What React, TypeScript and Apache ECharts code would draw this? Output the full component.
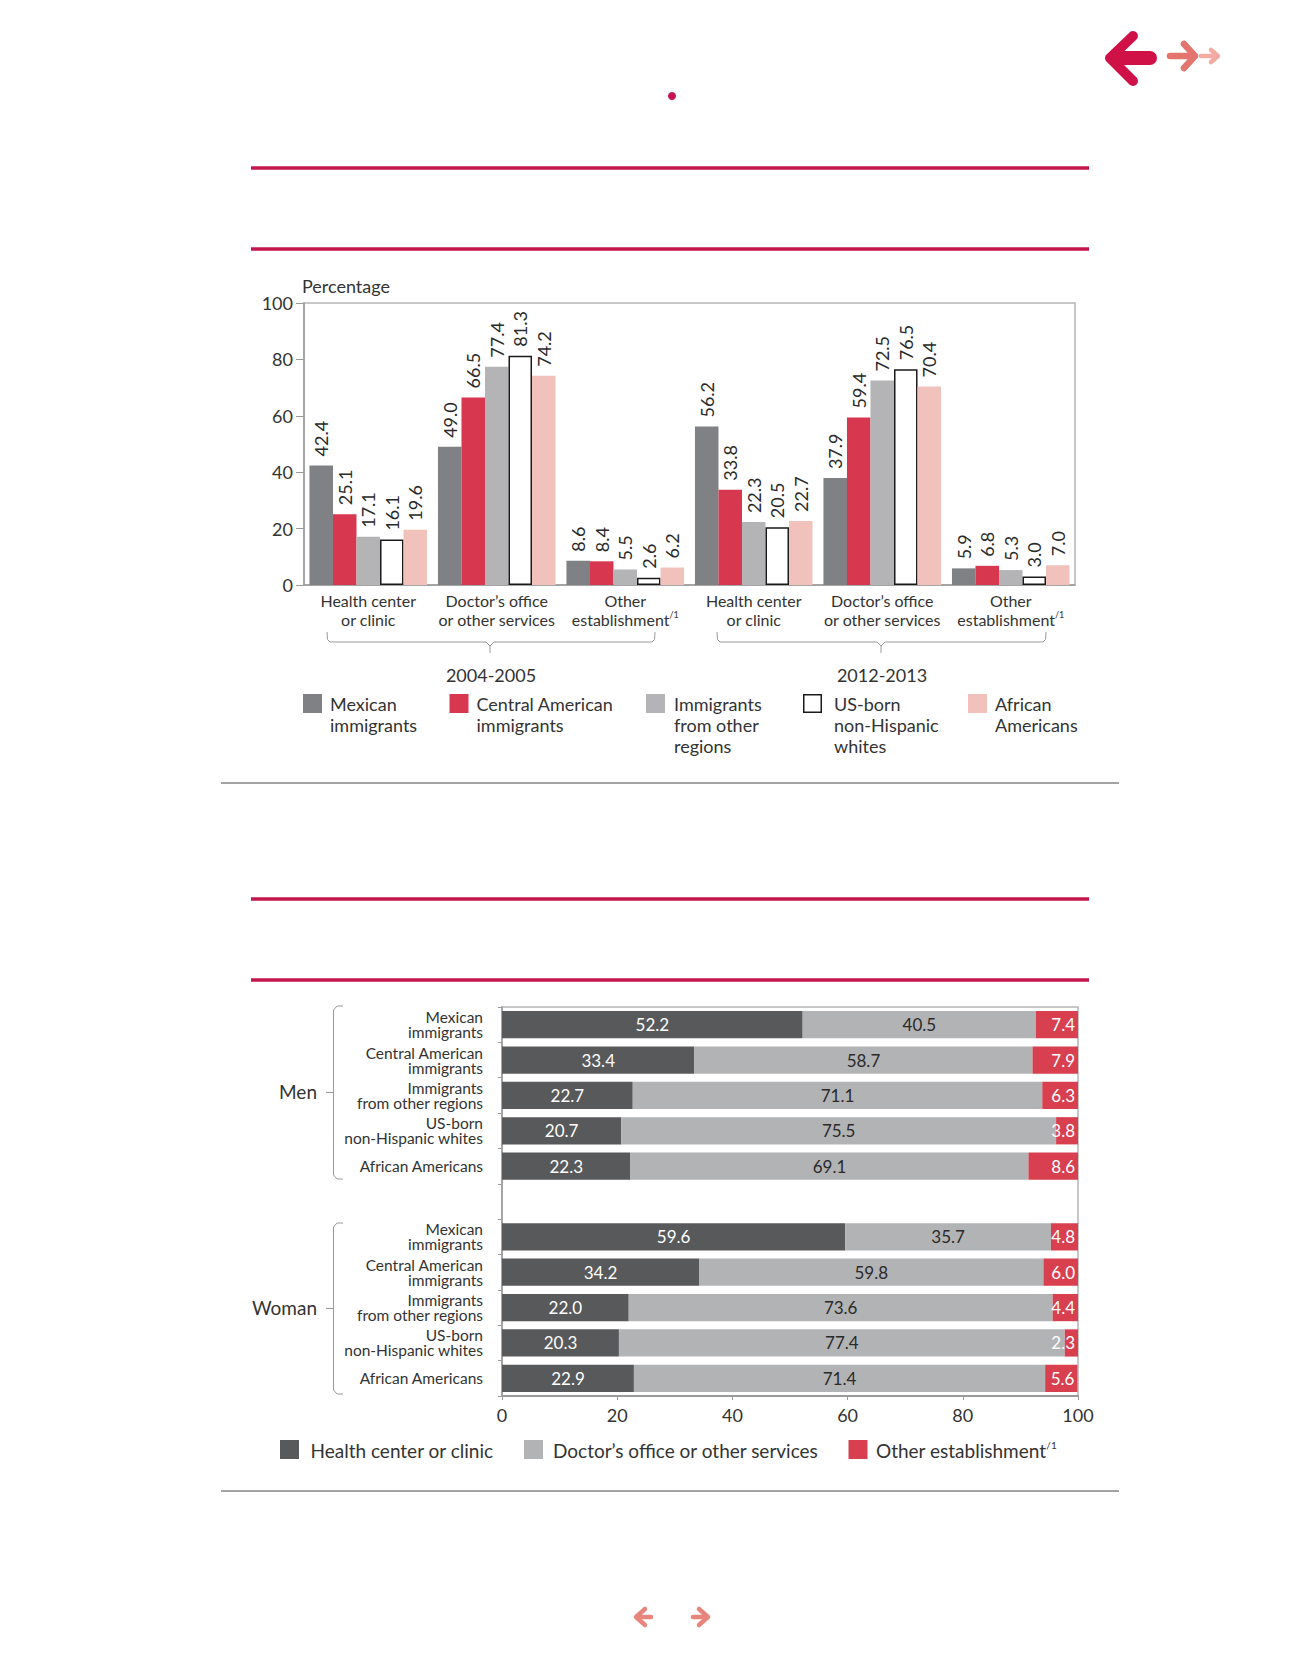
import React, { useEffect, useRef } from 'react';
import * as echarts from 'echarts';

const FONT = 'Lato, "Open Sans", sans-serif';
const TEXT = '#333333';

// ---------- Chart 1 data ----------
const periods = ['2004-2005', '2012-2013'];
const placeKeys = ['p1-hc', 'p1-do', 'p1-ot', 'p2-hc', 'p2-do', 'p2-ot'];
const placeLabels = ['Health center\nor clinic', 'Doctor’s office\nor other services', 'Other\n{n|establishment}{s|/1}'];
const groupNames = ['Mexican immigrants', 'Central American immigrants', 'Immigrants from other regions', 'US-born non-Hispanic whites', 'African Americans'];
const legend1Labels = ['Mexican\nimmigrants', 'Central American\nimmigrants', 'Immigrants\nfrom other\nregions', 'US-born\nnon-Hispanic\nwhites', 'African\nAmericans'];
const mexicanValues = [42.4, 49.0, 8.6, 56.2, 37.9, 5.9];
const centralAmericanValues = [25.1, 66.5, 8.4, 33.8, 59.4, 6.8];
const otherRegionsValues = [17.1, 77.4, 5.5, 22.3, 72.5, 5.3];
const usBornValues = [16.1, 81.3, 2.6, 20.5, 76.5, 3.0];
const africanAmericanValues = [19.6, 74.2, 6.2, 22.7, 70.4, 7.0];
const yAxis1Ticks = { min: 0, max: 100, interval: 20 };

// ---------- Chart 2 data ----------
const sexGroups = ['Men', 'Woman'];
const populationLabels = ['Mexican\nimmigrants', 'Central American\nimmigrants', 'Immigrants\nfrom other regions', 'US-born\nnon-Hispanic whites', 'African Americans'];
const menHealth = [52.2, 33.4, 22.7, 20.7, 22.3];
const menDoctor = [40.5, 58.7, 71.1, 75.5, 69.1];
const menOther = [7.4, 7.9, 6.3, 3.8, 8.6];
const womanHealth = [59.6, 34.2, 22.0, 20.3, 22.9];
const womanDoctor = [35.7, 59.8, 73.6, 77.4, 71.4];
const womanOther = [4.8, 6.0, 4.4, 2.3, 5.6];
const placeNames = ['Health center or clinic', 'Doctor’s office or other services', 'Other establishment{s|/1}'];
const xAxis2Ticks = { min: 0, max: 100, interval: 20 };

const groupColors = ['#808184', '#d7374f', '#b4b4b6', '#ffffff', '#f1c1bb'];
const placeColors = ['#58595b', '#b2b3b5', '#d9404f'];

const fmt1 = (p: any) => (typeof p.value === 'number' ? p.value.toFixed(1) : '');

function line(x1: number, y1: number, x2: number, y2: number, stroke: string, w: number) {
  return { type: 'line', silent: true, shape: { x1, y1, x2, y2 }, style: { stroke, lineWidth: w } };
}
function poly(points: number[][], stroke: string, w: number, round = false) {
  return {
    type: 'polyline', silent: true, shape: { points },
    style: { stroke, lineWidth: w, fill: 'none', lineCap: round ? 'round' : 'butt', lineJoin: round ? 'round' : 'miter' },
  };
}
function txt(x: number, y: number, text: string, size: number, opts: any = {}) {
  return {
    type: 'text', silent: true, x, y,
    style: {
      text, fill: TEXT, fontSize: size, fontFamily: FONT,
      align: opts.align || 'left', verticalAlign: opts.verticalAlign || 'middle',
      lineHeight: opts.lineHeight, rich: opts.rich,
    },
  };
}

export default function App() {
  const ref = useRef<HTMLDivElement>(null);
  useEffect(() => {
    if (!ref.current) return;
    const chart = echarts.init(ref.current, undefined, { renderer: 'svg' });

    const series1Values = [mexicanValues, centralAmericanValues, otherRegionsValues, usBornValues, africanAmericanValues];
    const cat2Keys = [
      ...populationLabels.map((_, i) => 'm' + i), 'gap', ...populationLabels.map((_, i) => 'w' + i),
    ];
    const cat2Label = (v: string) => (v === 'gap' ? '' : populationLabels[Number(v.slice(1))]);
    const series2Values = [
      [...menHealth, '-', ...womanHealth],
      [...menDoctor, '-', ...womanDoctor],
      [...menOther, '-', ...womanOther],
    ];

    const graphics: any[] = [];
    // header decoration
    [168, 249, 899, 980].forEach((y) => graphics.push(line(251, y, 1089, y, '#c5164b', 3.5)));
    [783, 1491].forEach((y) => graphics.push(line(221, y, 1119, y, '#a3a3a3', 2)));
    graphics.push({ type: 'circle', silent: true, shape: { cx: 672, cy: 96, r: 4 }, style: { fill: '#c5164b' } });
    // top arrows
    graphics.push(poly([[1133, 36], [1110, 58], [1133, 81]], '#cf1148', 10, true));
    graphics.push(poly([[1114, 58], [1150, 58]], '#cf1148', 14, true));
    graphics.push(poly([[1184, 44], [1195, 56], [1184, 68]], '#e4756e', 6.5, true));
    graphics.push(poly([[1170, 56], [1192, 56]], '#e4756e', 6.5, true));
    graphics.push(poly([[1211, 50], [1218, 56], [1211, 62]], '#f2aba3', 4.5, true));
    graphics.push(poly([[1201, 56], [1216, 56]], '#f2aba3', 4.5, true));
    // bottom arrows
    graphics.push(poly([[645, 1609], [636, 1617], [645, 1625]], '#e8857c', 4.5, true));
    graphics.push(poly([[637, 1617], [651, 1617]], '#e8857c', 4.5, true));
    graphics.push(poly([[699, 1609], [708, 1617], [699, 1625]], '#e8857c', 4.5, true));
    graphics.push(poly([[693, 1617], [707, 1617]], '#e8857c', 4.5, true));

    // chart 1 annotations
    graphics.push(txt(302, 286, 'Percentage', 18));
    const braces = [
      { l: 327, r: 655, c: 490 },
      { l: 717, r: 1046, c: 881 },
    ];
    braces.forEach((b, i) => {
      graphics.push(poly([[b.l, 632], [b.l + 0.5, 639.5], [b.l + 3, 642], [b.c - 4, 642], [b.c, 646], [b.c, 653]], '#9a9a9a', 1));
      graphics.push(poly([[b.c, 646], [b.c + 4, 642], [b.r - 3, 642], [b.r - 0.5, 639.5], [b.r, 632]], '#9a9a9a', 1));
      graphics.push(txt(b.c + 1, 675, periods[i], 18, { align: 'center' }));
    });
    const leg1 = [
      { ix: 303, tx: 330 },
      { ix: 449.5, tx: 476.5 },
      { ix: 646, tx: 674 },
      { ix: 803, tx: 834 },
      { ix: 968, tx: 995 },
    ];
    leg1.forEach((p, i) => {
      const white = groupColors[i] === '#ffffff';
      graphics.push({
        type: 'rect', silent: true,
        shape: white ? { x: p.ix + 0.75, y: 694.75, width: 17.5, height: 17.5 } : { x: p.ix, y: 694, width: 19, height: 19 },
        style: { fill: groupColors[i], stroke: white ? '#1a1a1a' : undefined, lineWidth: white ? 1.5 : 0 },
      });
      graphics.push(txt(p.tx, 693.5, legend1Labels[i], 18, { verticalAlign: 'top', lineHeight: 21 }));
    });

    // chart 2 annotations
    const brackets = [
      { t: 1006, b: 1179, label: sexGroups[0] },
      { t: 1223, b: 1394, label: sexGroups[1] },
    ];
    brackets.forEach((g) => {
      const m = (g.t + g.b) / 2;
      graphics.push(poly([[343, g.t], [337, g.t], [333.5, g.t + 4], [333.5, g.b - 4], [337, g.b], [343, g.b]], '#9a9a9a', 1));
      graphics.push(line(326, m, 333.5, m, '#9a9a9a', 1));
      graphics.push(txt(317, m - 1, g.label, 19, { align: 'right' }));
    });
    const leg2 = [
      { ix: 280, tx: 310.5 },
      { ix: 524, tx: 553 },
      { ix: 848.5, tx: 876 },
    ];
    leg2.forEach((p, i) => {
      graphics.push({ type: 'rect', silent: true, shape: { x: p.ix, y: 1440, width: 19, height: 19 }, style: { fill: placeColors[i] } });
      graphics.push(txt(p.tx, 1450, placeNames[i], 19, {
        rich: { s: { fontSize: 10, verticalAlign: 'top', fontFamily: FONT, fill: TEXT, lineHeight: 20 } },
      }));
    });

    const option: any = {
      animation: false,
      textStyle: { fontFamily: FONT },
      grid: [
        { left: 304, top: 303, width: 771, height: 282, show: true, borderColor: '#b5b5b5', borderWidth: 1.5, backgroundColor: 'transparent' },
        { left: 502, top: 1007, width: 576, height: 389, show: true, borderColor: '#b5b5b5', borderWidth: 1.5, backgroundColor: 'transparent' },
      ],
      xAxis: [
        {
          type: 'category', gridIndex: 0, data: placeKeys,
          axisLine: { lineStyle: { color: '#9a9a9a', width: 1.5 } },
          axisTick: { show: false },
          axisLabel: {
            interval: 0, margin: 6, fontSize: 16, color: TEXT, lineHeight: 19, fontFamily: FONT,
            formatter: (v: string, i: number) => placeLabels[i % 3],
            rich: {
              n: { fontSize: 16, fontFamily: FONT, color: TEXT, lineHeight: 19 },
              s: { fontSize: 9, fontFamily: FONT, color: TEXT, verticalAlign: 'top', lineHeight: 19 },
            },
          },
        },
        {
          type: 'value', gridIndex: 1, ...xAxis2Ticks,
          axisLine: { show: true, lineStyle: { color: '#9a9a9a', width: 2 } },
          axisTick: { show: true, length: 4, lineStyle: { color: '#9a9a9a' } },
          splitLine: { show: false },
          axisLabel: { margin: 10, fontSize: 18, color: TEXT, fontFamily: FONT },
        },
      ],
      yAxis: [
        {
          type: 'value', gridIndex: 0, ...yAxis1Ticks,
          axisLine: { show: true, lineStyle: { color: '#9a9a9a', width: 1.5 } },
          axisTick: { show: true, length: 8, lineStyle: { color: '#9a9a9a' } },
          splitLine: { show: false },
          axisLabel: { margin: 11, fontSize: 18, color: TEXT, fontFamily: FONT },
        },
        {
          type: 'category', gridIndex: 1, data: cat2Keys, inverse: true,
          axisLine: { lineStyle: { color: '#9a9a9a', width: 1.5 } },
          axisTick: { show: true, length: 4, lineStyle: { color: '#9a9a9a' } },
          axisLabel: {
            interval: 0, margin: 19, fontSize: 15.5, lineHeight: 15, color: TEXT, fontFamily: FONT,
            formatter: (v: string) => cat2Label(v),
          },
        },
      ],
      series: [
        ...series1Values.map((vals, i) => ({
          type: 'bar', name: groupNames[i], xAxisIndex: 0, yAxisIndex: 0, data: vals,
          barGap: '0%', barCategoryGap: '8.5%',
          itemStyle: groupColors[i] === '#ffffff'
            ? { color: '#ffffff', borderColor: '#1a1a1a', borderWidth: 1.5 }
            : { color: groupColors[i] },
          label: {
            show: true, position: 'top', rotate: 90, align: 'left', verticalAlign: 'middle', distance: 9,
            fontSize: 18, color: '#2a2a2a', fontFamily: FONT, formatter: fmt1,
          },
        })),
        ...series2Values.map((vals, i) => ({
          type: 'bar', name: placeNames[i].replace('{s|/1}', ''), xAxisIndex: 1, yAxisIndex: 1, stack: 'place', data: vals,
          barCategoryGap: '23%',
          itemStyle: { color: placeColors[i] },
          label: {
            show: true, position: i === 2 ? 'insideRight' : 'inside', distance: 3,
            fontSize: 17, color: i === 1 ? '#2a2a2a' : '#ffffff', fontFamily: FONT, formatter: fmt1,
          },
        })),
      ],
      graphic: graphics,
    };
    chart.setOption(option);
    return () => chart.dispose();
  }, []);

  return <div ref={ref} style={{ position: 'absolute', left: 0, top: 0, width: 1312, height: 1679, background: '#ffffff' }} />;
}
